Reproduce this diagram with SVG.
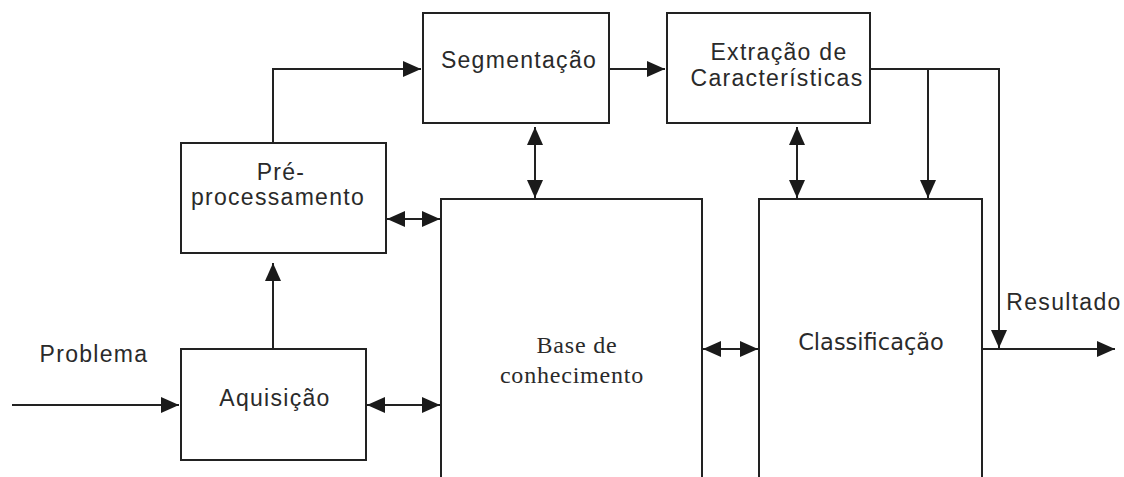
<svg xmlns="http://www.w3.org/2000/svg" width="1124" height="477" viewBox="0 0 1124 477">
  <style>
    .box { fill: #ffffff; stroke: #222222; stroke-width: 2; }
    .lbl { font-family: "Liberation Sans", Arial, sans-serif; font-size: 23px; letter-spacing: 1.3px; fill: #2a2a2a; text-anchor: middle; }
    .serif { font-family: "Liberation Serif", "Times New Roman", serif; font-size: 24px; letter-spacing: 0.8px; fill: #2a2a2a; text-anchor: middle; }
    .dv { font-family: "DejaVu Sans", Verdana, sans-serif; font-size: 22.5px; fill: #2a2a2a; text-anchor: middle; }
    .wire { fill: none; stroke: #222222; stroke-width: 2; }
    .one { marker-end: url(#head); }
    .two { marker-start: url(#head); marker-end: url(#head); }
  </style>
  <defs>
    <marker id="head" markerUnits="userSpaceOnUse" markerWidth="19" markerHeight="18" refX="18" refY="9" orient="auto-start-reverse">
      <path d="M0,1 L18,9 L0,17 z" fill="#1a1a1a"/>
    </marker>
  </defs>
  <rect width="1124" height="477" fill="#ffffff"/>

  <g id="connectors">
    <path class="wire one" d="M12,405 H179"/>
    <path class="wire one" d="M273,349 V263"/>
    <path class="wire one" d="M273,143 V69 H421"/>
    <path class="wire one" d="M609,69 H665"/>
    <path class="wire two" d="M535,127 V198"/>
    <path class="wire two" d="M797,127 V198"/>
    <path class="wire one" d="M870,69 H999 V348"/>
    <path class="wire one" d="M928,69 V198"/>
    <path class="wire one" d="M982,349 H1115"/>
    <path class="wire two" d="M703,349 H758"/>
    <path class="wire two" d="M387,219 H440"/>
    <path class="wire two" d="M367,405 H440"/>
  </g>

  <g id="preprocessamento">
    <rect class="box" x="181" y="143" width="205" height="110"/>
    <text class="lbl" x="281" y="180">Pré-</text>
    <text class="lbl" x="278" y="205">processamento</text>
  </g>

  <g id="segmentacao">
    <rect class="box" x="423" y="13" width="186" height="110"/>
    <text class="lbl" x="519" y="68">Segmentação</text>
  </g>

  <g id="extracao">
    <rect class="box" x="667" y="13" width="203" height="110"/>
    <text class="lbl" x="779" y="60">Extração de</text>
    <text class="lbl" x="777" y="86">Características</text>
  </g>

  <g id="aquisicao">
    <rect class="box" x="181" y="349" width="185" height="111"/>
    <text class="lbl" x="275" y="406">Aquisição</text>
  </g>

  <g id="base-conhecimento">
    <path class="wire" d="M441,478 V199 H702 V478"/>
    <text class="serif" x="577" y="353">Base de</text>
    <text class="serif" x="572" y="383">conhecimento</text>
  </g>

  <g id="classificacao">
    <path class="wire" d="M759,478 V199 H982 V478"/>
    <text class="dv" x="871" y="350">Classificação</text>
  </g>

  <g id="labels">
    <text class="lbl" x="94" y="362">Problema</text>
    <text class="lbl" x="1064" y="310">Resultado</text>
  </g>
</svg>
